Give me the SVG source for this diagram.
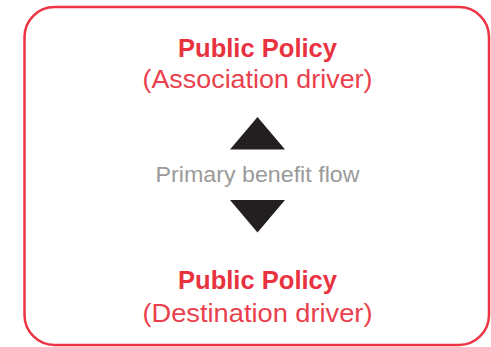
<svg xmlns="http://www.w3.org/2000/svg" width="491" height="347" viewBox="0 0 491 347">
<style>
.t{font-family:"Liberation Sans",Arial,sans-serif;text-anchor:middle;fill:#e8323f}
.b{font-weight:bold;font-size:26px}
.s{font-size:26px;fill:#ea3f4c}
.g{font-family:"Liberation Sans",Arial,sans-serif;text-anchor:middle;font-size:22px;fill:#9a9a9a}
.tri{fill:#231f20}
</style>
<rect x="24.5" y="7" width="464.5" height="338" rx="30" fill="#ffffff" stroke="#ec3445" stroke-width="2.5"/>
<g id="assoc">
<text class="t b" x="257.5" y="56.5" textLength="159" lengthAdjust="spacingAndGlyphs">Public Policy</text>
<text class="t s" x="257.5" y="88" textLength="230" lengthAdjust="spacingAndGlyphs">(Association driver)</text>
</g>
<g id="connectors">
<polygon class="tri" points="257.5,117 285,149.5 230,149.5"/>
<text class="g" x="257.5" y="181.5" textLength="204" lengthAdjust="spacingAndGlyphs">Primary benefit flow</text>
<polygon class="tri" points="230,200 285,200 257.5,232.5"/>
</g>
<g id="dest">
<text class="t b" x="257.5" y="289" textLength="159" lengthAdjust="spacingAndGlyphs">Public Policy</text>
<text class="t s" x="257.5" y="321.5" textLength="230" lengthAdjust="spacingAndGlyphs">(Destination driver)</text>
</g>
</svg>
